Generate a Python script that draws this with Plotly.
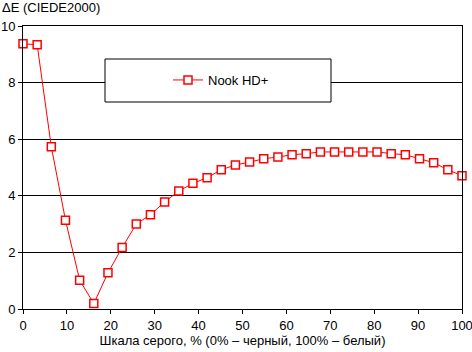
import plotly.graph_objects as go

gray_pct = [i * 100 / 31 for i in range(32)]
delta_e = [9.37, 9.34, 5.73, 3.14, 1.02, 0.19, 1.28, 2.17, 3.00, 3.33, 3.78, 4.17,
           4.44, 4.64, 4.92, 5.09, 5.19, 5.31, 5.37, 5.45, 5.49, 5.55, 5.55, 5.55,
           5.55, 5.55, 5.49, 5.45, 5.31, 5.17, 4.92, 4.71]
series_name = "Nook HD+"
x_ticks = [0, 10, 20, 30, 40, 50, 60, 70, 80, 90, 100]
y_ticks = [0, 2, 4, 6, 8, 10]

FONT = "Liberation Sans, Arial, sans-serif"
FS = 13
PW, PH = 439, 283

fig = go.Figure()
fig.add_trace(go.Scatter(
    x=gray_pct, y=delta_e, mode="lines+markers", name=series_name,
    line=dict(color="#ff0000", width=1),
    marker=dict(symbol="square", size=8, color="white",
                line=dict(color="#ff0000", width=1.5)),
    cliponaxis=False,
))

fig.update_layout(
    width=472, height=352,
    margin=dict(l=23, r=10, t=26, b=43, autoexpand=False),
    paper_bgcolor="white", plot_bgcolor="white",
    font=dict(family=FONT, size=FS, color="black"),
    showlegend=True,
    legend=dict(x=(168 - 23) / PW, y=(309 - 80) / PH, xanchor="left", yanchor="middle",
                bgcolor="rgba(0,0,0,0)", borderwidth=0,
                font=dict(family=FONT, size=FS, color="black")),
    xaxis=dict(range=[0, 100], tickvals=x_ticks, showgrid=False, automargin=False,
               showline=True, linecolor="black", linewidth=1, mirror=True,
               ticks="outside", ticklen=4, tickcolor="black", zeroline=False,
               ticklabeloverflow="allow",
               title=dict(text="Шкала серого, % (0% – черный, 100% – белый)",
                          font=dict(size=FS), standoff=4),
               fixedrange=True),
    yaxis=dict(range=[0, 10], tickvals=y_ticks, showgrid=True, gridcolor="black",
               gridwidth=1, showline=True, linecolor="black", linewidth=1,
               mirror=True, ticks="outside", ticklen=4, tickcolor="black",
               ticklabeloverflow="allow",
               zeroline=False, fixedrange=True, automargin=False),
    shapes=[dict(type="rect", xref="paper", yref="paper",
                 x0=(105 - 23) / PW, x1=(331 - 23) / PW,
                 y0=(309 - 102) / PH, y1=(309 - 59) / PH,
                 line=dict(color="black", width=1), fillcolor="white", layer="above")],
    annotations=[dict(text="ΔE (CIEDE2000)", xref="paper", yref="paper",
                      x=-23 / PW, y=1 + 18 / PH, xanchor="left", yanchor="middle",
                      showarrow=False, font=dict(size=FS))],
)

fig.write_html("out.html")
